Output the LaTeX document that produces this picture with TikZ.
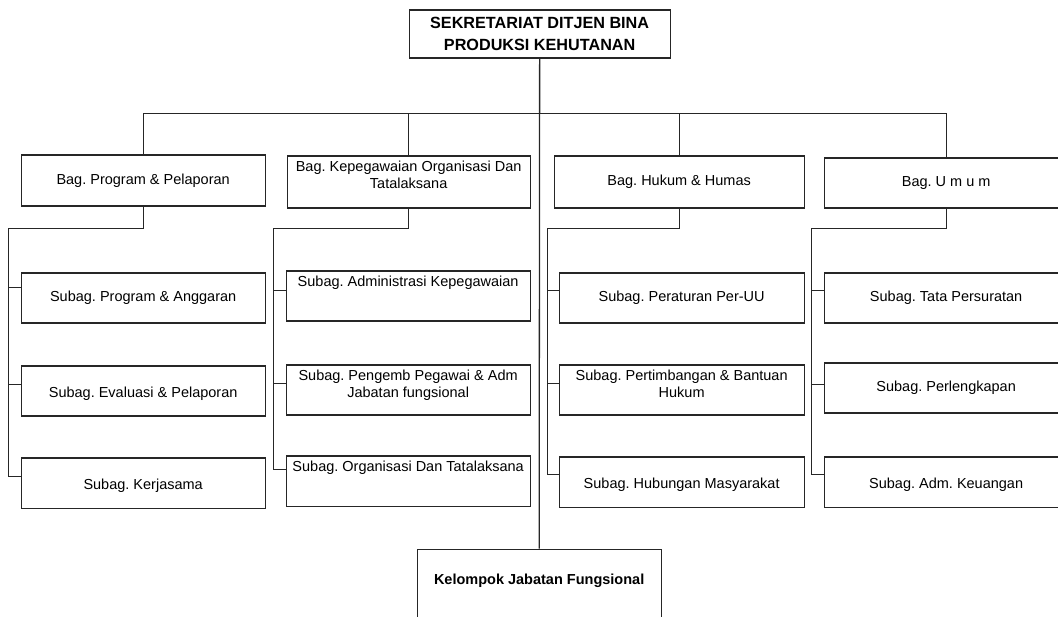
\documentclass[tikz,border=0pt]{standalone}
\usepackage{fontspec}
\setmainfont{Liberation Sans}
\newcommand{\cbox}[3]{\parbox[c][#2pt][c]{#1pt}{\centering #3}}
\newcommand{\tbox}[3]{\parbox[c][#2pt][t]{#1pt}{\centering #3}}
\begin{document}
\frenchspacing
\begin{tikzpicture}[x=1pt,y=-1pt,
  box/.style={draw=black!85, line width=1.3pt, anchor=north west, inner sep=0pt, font=\fontsize{14.5}{17}\selectfont\frenchspacing},
  ln/.style={draw=black!85, line width=1.3pt}]
\useasboundingbox (0,0) rectangle (1058,617);
\clip (0,0) rectangle (1058,617);
\begin{scope}[shift={(0.5,0.5)}]
% top
\node[box, minimum width=261pt, minimum height=48pt, font=\bfseries\fontsize{16.2}{22}\selectfont, align=center] (top) at (408,9) {SEKRETARIAT DITJEN BINA\\PRODUKSI KEHUTANAN};
% bagian
\node[box, minimum width=244pt, minimum height=51pt] (b1) at (20,154) {\cbox{236}{40}{Bag. Program \& Pelaporan}};
\node[box, minimum width=243pt, minimum height=52pt] (b2) at (286,155) {\tbox{236}{42}{Bag. Kepegawaian Organisasi Dan\\Tatalaksana}};
\node[box, minimum width=250pt, minimum height=52pt] (b3) at (553,155) {\cbox{240}{40}{Bag. Hukum \& Humas}};
\node[box, minimum width=244pt, minimum height=50pt] (b4) at (823,157) {\cbox{236}{40}{Bag. U m u m}};
% col 1
\node[box, minimum width=244pt, minimum height=50pt] (s11) at (20,272) {\cbox{236}{40}{Subag. Program \& Anggaran}};
\node[box, minimum width=244pt, minimum height=50pt] (s12) at (20,365) {\cbox{236}{40}{\rule{0pt}{15pt}Subag. Evaluasi \& Pelaporan}};
\node[box, minimum width=244pt, minimum height=50pt] (s13) at (20,457) {\cbox{236}{40}{\rule{0pt}{16pt}Subag. Kerjasama}};
% col 2
\node[box, minimum width=244pt, minimum height=50pt] (s21) at (285,270) {\tbox{240}{40}{Subag. Administrasi Kepegawaian}};
\node[box, minimum width=244pt, minimum height=50pt] (s22) at (285,364) {\tbox{240}{40}{Subag. Pengemb Pegawai \& Adm\\Jabatan fungsional}};
\node[box, minimum width=244pt, minimum height=50pt] (s23) at (285,455) {\tbox{240}{40}{Subag. Organisasi Dan Tatalaksana}};
% col 3
\node[box, minimum width=245pt, minimum height=50pt] (s31) at (558,272) {\cbox{236}{40}{Subag. Peraturan Per-UU}};
\node[box, minimum width=245pt, minimum height=50pt] (s32) at (558,364) {\tbox{236}{40}{Subag. Pertimbangan \& Bantuan\\Hukum}};
\node[box, minimum width=245pt, minimum height=50pt] (s33) at (558,456) {\cbox{236}{40}{\rule{0pt}{15pt}Subag. Hubungan Masyarakat}};
% col 4
\node[box, minimum width=244pt, minimum height=50pt] (s41) at (823,272) {\cbox{236}{40}{Subag. Tata Persuratan}};
\node[box, minimum width=244pt, minimum height=50pt] (s42) at (823,362) {\cbox{236}{40}{Subag. Perlengkapan}};
\node[box, minimum width=244pt, minimum height=50pt] (s43) at (823,456) {\cbox{236}{40}{\rule{0pt}{15pt}Subag. Adm. Keuangan}};
% kelompok
\node[box, minimum width=244pt, minimum height=80pt] (kel) at (416,548) {\parbox[c][70pt][t]{236pt}{\centering\rule{0pt}{30pt}\bfseries Kelompok Jabatan Fungsional}};
% connectors
\coordinate (bus) at (538,113);
\draw[ln] (top.south) -- (kel.north);
\draw[ln] (b1.north) |- (bus) -| (b4.north);
\draw[ln] (b2.north) -- (b2.north |- bus);
\draw[ln] (b3.north) -- (b3.north |- bus);
% column 1
\draw[ln] (b1.south) |- (8,228) -- (8,476) -- (s13.west |- 0,476);
\draw[ln] (8,287) -- (s11.west |- 0,287);
\draw[ln] (8,384) -- (s12.west |- 0,384);
% column 2
\draw[ln] (b2.south) |- (273,228) -- (273,469) -- (s23.west |- 0,469);
\draw[ln] (273,290) -- (s21.west |- 0,290);
\draw[ln] (273,383) -- (s22.west |- 0,383);
% column 3
\draw[ln] (b3.south) |- (547,228) -- (547,474) -- (s33.west |- 0,474);
\draw[ln] (547,290) -- (s31.west |- 0,290);
\draw[ln] (547,383) -- (s32.west |- 0,383);
% column 4
\draw[ln] (b4.south) |- (811,228) -- (811,474) -- (s43.west |- 0,474);
\draw[ln] (811,290) -- (s41.west |- 0,290);
\draw[ln] (811,384) -- (s42.west |- 0,384);
\end{scope}
\end{tikzpicture}
\end{document}
